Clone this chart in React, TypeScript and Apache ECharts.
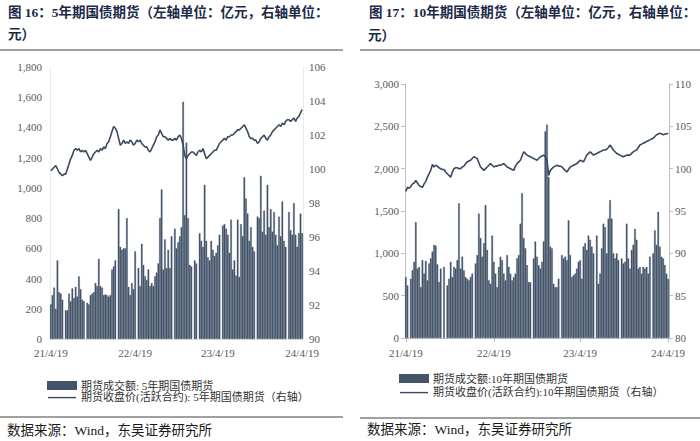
import React, { useEffect, useRef } from 'react';
import * as echarts from 'echarts';

const tickLabels = ['21/4/19', '22/4/19', '23/4/19', '24/4/19'];

// 5年期国债期货：成交额（亿元）
const volume5Y: (number | null)[] = [
  230, 290, 340, 200, 520, 310, 300, 260, null, 190,
  190, 300, 250, 335, 270, 345, 280, 415, 330, 260,
  250, null, 240, 230, 290, 300, 310, 370, 350, 530,
  350, 340, 290, 295, 290, 280, 290, 460, 480, 520,
  null, 860, 610, 590, 600, 600, 800, 345, 290, 370,
  330, 580, null, 470, 350, 630, 490, 415, 390, 460,
  350, 370, 350, 415, 440, 500, 800, 990, 460, 660,
  470, 590, 470, 680, null, 730, 600, 640, 680, 740,
  1570, 820, 1300, 800, 490, 480, null, 520, 500, null,
  700, 650, 610, 1020, 650, 540, 520, 650, 590, 550,
  570, 620, 690, null, 750, 760, 730, 690, 570, 790,
  460, 520, 420, 790, 410, 760, 680, 1070, 930, 830,
  650, 740, 610, 580, null, 810, 800, 1080, 710, 850,
  690, 1020, 740, 860, 710, 840, 690, 620, 810, 680,
  910, 650, 610, null, 840, 720, 690, 900, 690, 610,
  700, 830, 700,
];

// 5年期国债期货：收盘价（元）
const close5Y: number[] = [
  99.9, 100.0, 100.1, 100.2, 100.0, 99.8, 99.7, 99.6, 99.7, 99.7,
  100.0, 100.3, 100.6, 100.8, 101.1, 101.2, 101.1, 101.2, 101.0, 101.1,
  101.0, 101.1, 100.9, 100.7, 100.5, 100.7, 100.9, 101.0, 101.1, 101.0,
  101.2, 101.1, 101.3, 101.2, 101.5, 101.6, 101.9, 102.2, 102.5, 102.4,
  102.2, 101.8, 101.4, 101.5, 101.7, 101.5, 101.6, 101.5, 101.7, 101.6,
  101.4, 101.5, 101.7, 101.6, 101.7, 101.5, 101.4, 101.3, 101.3, 101.1,
  101.0, 101.2, 101.4, 101.6, 101.9, 102.0, 102.3, 102.1, 101.9, 101.9,
  101.8, 101.7, 101.8, 101.7, 101.7, 101.8, 101.7, 101.9, 102.0, 101.8,
  101.4, 100.8, 100.6, 100.8, 100.9, 101.0, 101.0, 100.9, 100.8, 101.0,
  101.1, 101.0, 101.2, 100.9, 100.6, 100.7, 100.8, 100.9, 101.0, 101.1,
  101.1, 101.3, 101.5, 101.6, 101.7, 101.8, 101.7, 101.9, 101.9, 102.0,
  102.0, 102.1, 102.2, 102.3, 102.3, 102.4, 102.5, 102.6, 102.4, 102.2,
  101.9, 101.8, 101.8, 101.7, 101.7, 101.5, 101.6, 101.8, 101.9, 102.0,
  101.8, 101.7, 101.9, 102.0, 102.2, 102.3, 102.4, 102.5, 102.6, 102.5,
  102.7, 102.6, 102.8, 102.9, 102.9, 102.8, 102.9, 103.0, 102.8, 103.0,
  103.1, 103.3, 103.5,
];

// 10年期国债期货：成交额（亿元）
const volume10Y: (number | null)[] = [
  720, 620, null, 700, 800, 900, 1370, 820, 840, 600,
  920, 760, 910, 680, 880, 940, 1020, 1100, 1090, 870,
  660, 820, null, 840, null, 620, 700, 900, 720, 840,
  820, 920, 1590, 820, 960, 800, 720, 700, 680, 720,
  760, null, 880, 980, 1470, 1180, 960, 1120, 1570, 1040,
  680, 640, 1210, 900, 760, 600, 840, 960, 920, 760,
  680, 980, 840, 760, 680, 720, 760, 940, 980, 1350,
  1710, 1180, 1060, 860, 660, 660, null, 940, 1140, 960,
  860, 820, 900, 1140, 2440, 2520, 1900, 1080, 1060, 640,
  600, 600, 700, null, 980, 940, 960, 920, 1390, 980,
  720, 740, 760, 820, 900, 920, 700, 1080, 1120, 1040,
  1210, 1160, 1080, 1000, null, 1210, 640, 760, 1060, 1350,
  1310, 1000, 1410, 1630, 1410, 1000, 940, 1000, 920, null,
  940, 880, 900, 1350, 940, 820, 1040, 1100, 1290, 1160,
  820, 840, 760, 840, 820, 840, 760, 960, null, 1000,
  1270, 1100, 1490, 1080, 960, 940, 860, 760, 700,
];

// 10年期国债期货：收盘价（元）
const close10Y: number[] = [
  97.3, 97.8, 97.7, 97.9, 98.2, 98.3, 98.6, 98.3, 98.0, 97.9,
  97.8, 98.2, 98.5, 99.0, 99.4, 99.8, 100.5, 100.2, 100.4, 100.3,
  100.1, 100.0, 99.9, 99.9, 99.6, 99.4, 99.2, 99.0, 99.6, 100.0,
  100.1, 100.1, 100.0, 100.0, 100.2, 100.3, 100.6, 100.8, 100.9, 101.0,
  101.2, 101.4, 101.3, 101.2, 100.7, 100.2, 100.0, 99.8, 100.0, 100.2,
  100.4, 100.6, 100.4, 100.2, 100.3, 100.3, 100.4, 100.4, 100.5, 100.6,
  100.4, 100.2, 100.1, 100.0, 99.9, 99.8, 100.3, 100.6, 100.8, 101.0,
  101.5, 102.0, 101.8, 101.6, 101.5, 101.4, 101.3, 101.2, 101.1, 101.0,
  101.2, 101.4, 101.5, 101.6, 101.4, 101.0, 99.2, 99.8, 100.0, 100.2,
  100.3, 100.4, 100.3, 100.3, 100.2, 100.0, 99.8, 99.6, 99.9, 100.2,
  100.3, 100.4, 100.5, 100.6, 100.8, 101.0, 100.9, 100.8, 101.2, 101.6,
  101.8, 102.0, 101.8, 101.6, 101.7, 101.8, 101.9, 102.0, 102.1, 102.2,
  102.2, 102.3, 102.5, 102.8, 102.5, 102.2, 102.0, 101.8, 101.7, 101.6,
  101.5, 101.4, 101.5, 101.6, 101.6, 101.6, 101.8, 102.0, 102.1, 102.2,
  102.5, 102.8, 102.9, 103.0, 103.1, 103.2, 103.3, 103.4, 103.5, 103.6,
  103.8, 104.0, 104.1, 104.2, 104.1, 104.0, 104.1, 104.1, 104.2,
];

const BAR = '#44546a';
const LINE = '#3b4862';
const LATIN = '"Liberation Serif", "Noto Sans CJK SC", serif';
const LINE_ICON = 'path://M0,0M28,7M0,2.9H28V4.3H0Z';

function makeCategories(n: number): string[] {
  const start = Date.UTC(2021, 3, 19);
  const end = Date.UTC(2024, 3, 19);
  const out: string[] = [];
  for (let i = 0; i < n; i++) {
    const d = new Date(start + ((end - start) * i) / (n - 1));
    out.push(`${d.getUTCFullYear() % 100}/${d.getUTCMonth() + 1}/${d.getUTCDate()}#${i}`);
  }
  return out;
}

function tickIndices(n: number): number[] {
  return [0, Math.round((n - 1) / 3), Math.round((2 * (n - 1)) / 3), n - 1];
}

const fmtThousands = (v: number) => String(v).replace(/\B(?=(\d{3})+(?!\d))/g, ',');

export default function App() {
  const ref = useRef<HTMLDivElement>(null);

  useEffect(() => {
    if (!ref.current) return;
    const chart = echarts.init(ref.current, null, { renderer: 'svg' });

    const cats5 = makeCategories(volume5Y.length);
    const cats10 = makeCategories(volume10Y.length);
    const t5 = tickIndices(cats5.length);
    const t10 = tickIndices(cats10.length);

    const labelStyle = { color: '#595959', fontFamily: LATIN, fontSize: 11 };
    const barItem = { color: BAR, borderColor: BAR, borderWidth: 0.3 };

    const option: any = {
      animation: false,
      backgroundColor: '#ffffff',
      grid: [
        { left: 50, top: 67, width: 253, height: 272 },
        { left: 405, top: 84, width: 264, height: 254 },
      ],
      xAxis: [
        {
          type: 'category',
          gridIndex: 0,
          data: cats5,
          axisLine: { show: true, lineStyle: { color: '#e3e3e3' } },
          axisTick: { show: false },
          axisLabel: {
            ...labelStyle,
            margin: 8,
            interval: (i: number) => t5.includes(i),
            formatter: (_v: string, i: number) => tickLabels[t5.indexOf(i)] ?? '',
          },
          splitLine: { show: false },
        },
        {
          type: 'category',
          gridIndex: 1,
          data: cats10,
          axisLine: { show: true, lineStyle: { color: '#bfbfbf' } },
          axisTick: {
            show: true,
            alignWithLabel: true,
            length: 4,
            interval: (i: number) => t10.includes(i),
            lineStyle: { color: '#bfbfbf' },
          },
          axisLabel: {
            ...labelStyle,
            margin: 9,
            interval: (i: number) => t10.includes(i),
            formatter: (_v: string, i: number) => tickLabels[t10.indexOf(i)] ?? '',
          },
          splitLine: { show: false },
        },
      ],
      yAxis: [
        {
          type: 'value',
          gridIndex: 0,
          min: 0,
          max: 1800,
          interval: 200,
          axisLine: { show: true, lineStyle: { color: '#ececec' } },
          axisTick: { show: false },
          splitLine: { show: false },
          axisLabel: { ...labelStyle, margin: 8, formatter: fmtThousands },
        },
        {
          type: 'value',
          gridIndex: 0,
          position: 'right',
          min: 90,
          max: 106,
          interval: 2,
          axisLine: { show: true, lineStyle: { color: '#ececec' } },
          axisTick: { show: false },
          splitLine: { show: false },
          axisLabel: { ...labelStyle, margin: 6 },
        },
        {
          type: 'value',
          gridIndex: 1,
          min: 0,
          max: 3000,
          interval: 500,
          axisLine: { show: true, lineStyle: { color: '#bfbfbf' } },
          axisTick: { show: true, length: 4, lineStyle: { color: '#bfbfbf' } },
          splitLine: { show: false },
          axisLabel: { ...labelStyle, margin: 6, formatter: fmtThousands },
        },
        {
          type: 'value',
          gridIndex: 1,
          position: 'right',
          min: 80,
          max: 110,
          interval: 5,
          axisLine: { show: true, lineStyle: { color: '#bfbfbf' } },
          axisTick: { show: true, length: 4, lineStyle: { color: '#bfbfbf' } },
          splitLine: { show: false },
          axisLabel: { ...labelStyle, margin: 6 },
        },
      ],
      legend: [
        {
          orient: 'vertical',
          left: 42,
          top: 375,
          itemWidth: 28,
          itemHeight: 7,
          itemGap: 1,
          textStyle: { color: '#333', fontSize: 11, fontFamily: LATIN },
          data: [
            { name: '期货成交额: 5年期国债期货', icon: 'rect' },
            { name: '期货收盘价(活跃合约): 5年期国债期货（右轴）', icon: LINE_ICON },
          ],
        },
        {
          orient: 'vertical',
          left: 394,
          top: 368,
          itemWidth: 28,
          itemHeight: 7,
          itemGap: 3,
          textStyle: { color: '#333', fontSize: 11, fontFamily: LATIN },
          data: [
            { name: '期货成交额:10年期国债期货', icon: 'rect' },
            { name: '期货收盘价(活跃合约):10年期国债期货（右轴）', icon: LINE_ICON },
          ],
        },
      ],
      series: [
        {
          name: '期货成交额: 5年期国债期货',
          type: 'bar',
          xAxisIndex: 0,
          yAxisIndex: 0,
          data: volume5Y,
          barCategoryGap: '0%',
          itemStyle: barItem,
        },
        {
          name: '期货收盘价(活跃合约): 5年期国债期货（右轴）',
          type: 'line',
          xAxisIndex: 0,
          yAxisIndex: 1,
          data: close5Y,
          symbol: 'none',
          lineStyle: { color: LINE, width: 1.6 },
          itemStyle: { color: LINE },
          z: 3,
        },
        {
          name: '期货成交额:10年期国债期货',
          type: 'bar',
          xAxisIndex: 1,
          yAxisIndex: 2,
          data: volume10Y,
          barCategoryGap: '0%',
          itemStyle: barItem,
        },
        {
          name: '期货收盘价(活跃合约):10年期国债期货（右轴）',
          type: 'line',
          xAxisIndex: 1,
          yAxisIndex: 3,
          data: close10Y,
          symbol: 'none',
          lineStyle: { color: LINE, width: 1.6 },
          itemStyle: { color: LINE },
          z: 3,
        },
      ],
      graphic: [
        {
          type: 'text',
          x: 8,
          y: 12,
          style: {
            text: '图 16：5年期国债期货（左轴单位：亿元，右轴单位：',
            font: `bold 13.5px ${LATIN}`,
            fill: '#1c2a48',
            verticalAlign: 'middle',
          },
        },
        {
          type: 'text',
          x: 8,
          y: 34,
          style: { text: '元）', font: `bold 13.5px ${LATIN}`, fill: '#1c2a48', verticalAlign: 'middle' },
        },
        {
          type: 'text',
          x: 369,
          y: 12,
          style: {
            text: '图 17：10年期国债期货（左轴单位：亿元，右轴单位：',
            font: `bold 13.5px ${LATIN}`,
            fill: '#1c2a48',
            verticalAlign: 'middle',
          },
        },
        {
          type: 'text',
          x: 368,
          y: 35,
          style: { text: '元）', font: `bold 13.5px ${LATIN}`, fill: '#1c2a48', verticalAlign: 'middle' },
        },
        { type: 'line', shape: { x1: 0, y1: 50, x2: 343, y2: 50 }, style: { stroke: '#808080', lineWidth: 1.5 } },
        { type: 'line', shape: { x1: 360, y1: 50, x2: 700, y2: 50 }, style: { stroke: '#808080', lineWidth: 1.5 } },
        { type: 'line', shape: { x1: 0, y1: 417, x2: 343, y2: 417 }, style: { stroke: '#808080', lineWidth: 1.5 } },
        { type: 'line', shape: { x1: 360, y1: 418, x2: 700, y2: 418 }, style: { stroke: '#808080', lineWidth: 1.5 } },
        {
          type: 'text',
          x: 7,
          y: 430,
          style: { text: '数据来源：Wind，东吴证券研究所', font: `13.5px ${LATIN}`, fill: '#1a1a1a', verticalAlign: 'middle' },
        },
        {
          type: 'text',
          x: 367,
          y: 429,
          style: { text: '数据来源：Wind，东吴证券研究所', font: `13.5px ${LATIN}`, fill: '#1a1a1a', verticalAlign: 'middle' },
        },
      ],
    };

    chart.setOption(option);
    return () => chart.dispose();
  }, []);

  return <div ref={ref} style={{ position: 'absolute', left: 0, top: 0, width: 700, height: 441 }} />;
}
